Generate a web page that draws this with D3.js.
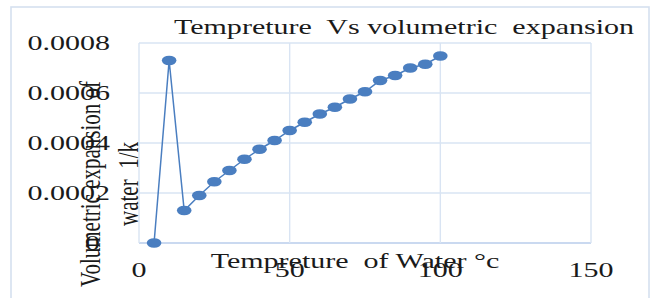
<!DOCTYPE html>
<html>
<head>
<meta charset="utf-8">
<script src="https://cdn.jsdelivr.net/npm/d3@7"></script>
<style>
  html, body { margin: 0; padding: 0; background: #fff; }
  svg text { font-family: "Liberation Serif", "Times New Roman", serif; fill: #1a1a1a; white-space: pre; }
</style>
</head>
<body>
<svg id="chart" width="654" height="298"></svg>
<script>
// ---- data ----
const temperatures = [5, 10, 15, 20, 25, 30, 35, 40, 45, 50, 55, 60, 65, 70, 75, 80, 85, 90, 95, 100];
const expansion = [0, 0.00073, 0.00013, 0.00019, 0.000245, 0.00029, 0.000335, 0.000375, 0.00041, 0.00045,
                   0.000483, 0.000516, 0.000543, 0.000576, 0.000605, 0.00065, 0.00067, 0.0007, 0.000715, 0.000748];
const xTicks = [0, 50, 100, 150];
const yTicks = [0, 0.0002, 0.0004, 0.0006, 0.0008];
const yTickLabels = ["0", "0.0002", "0.0004", "0.0006", "0.0008"];
const chartTitle = "Tempreture  Vs volumetric  expansion";
const xTitle = "Tempreture  of Water °c";
const yTitleLines = ["Volumetric expansion of", "water  1/k"];

// ---- layout ----
const svg = d3.select("#chart");
const sx = 1.43; // horizontal text stretch of the original image
const plot = { left: 139, right: 591, top: 43, bottom: 243 };
const x = d3.scaleLinear().domain([0, 150]).range([plot.left, plot.right]);
const y = d3.scaleLinear().domain([0, 0.0008]).range([plot.bottom, plot.top]);

// outer chart frame
svg.append("rect")
  .attr("x", 11).attr("y", 7).attr("width", 638).attr("height", 310)
  .attr("fill", "none").attr("stroke", "#d5e0ef").attr("stroke-width", 1.6);

// gridlines
svg.append("g").selectAll("line").data(yTicks).join("line")
  .attr("x1", plot.left).attr("x2", plot.right)
  .attr("y1", d => y(d)).attr("y2", d => y(d))
  .attr("stroke", d => d === 0 ? "#b9cdeb" : "#d9e4f3").attr("stroke-width", 1.4);
svg.append("g").selectAll("line").data(xTicks).join("line")
  .attr("x1", d => x(d)).attr("x2", d => x(d))
  .attr("y1", plot.top).attr("y2", plot.bottom)
  .attr("stroke", "#d9e4f3").attr("stroke-width", 1.4);

// y tick labels
svg.append("g").selectAll("text").data(yTicks).join("text")
  .attr("transform", (d) => `translate(${d === 0 ? 100 : 110},${y(d)}) scale(${sx},1)`)
  .attr("text-anchor", "end").attr("dy", "0.35em")
  .attr("font-size", 21)
  .text((d, i) => yTickLabels[i]);

// x tick labels
svg.append("g").selectAll("text").data(xTicks).join("text")
  .attr("transform", d => `translate(${x(d)},277) scale(${sx},1)`)
  .attr("text-anchor", "middle")
  .attr("font-size", 21)
  .text(d => d);

// title
svg.append("text")
  .attr("transform", `translate(404,34) scale(${sx},1)`)
  .attr("text-anchor", "middle").attr("font-size", 21)
  .text(chartTitle);

// x axis title
svg.append("text")
  .attr("transform", `translate(355,268) scale(${sx},1)`)
  .attr("text-anchor", "middle").attr("font-size", 21)
  .text(xTitle);

// y axis title (two lines, rotated)
const yt = svg.append("g").attr("transform", `translate(0,184) scale(${sx},1) rotate(-90)`);
yt.selectAll("text").data(yTitleLines).join("text")
  .attr("x", 0).attr("y", (d, i) => i === 0 ? 70 : 96.5)
  .attr("text-anchor", "middle").attr("font-size", 21)
  .text(d => d);

// series line
const pts = temperatures.map((t, i) => [t, expansion[i]]);
svg.append("path")
  .datum(pts)
  .attr("fill", "none").attr("stroke", "#4a7ec0").attr("stroke-width", 1.5)
  .attr("d", d3.line().x(d => x(d[0])).y(d => y(d[1])));

// markers
svg.append("g").selectAll("ellipse").data(pts).join("ellipse")
  .attr("cx", d => x(d[0])).attr("cy", d => y(d[1]))
  .attr("rx", 7.3).attr("ry", 4.8)
  .attr("fill", "#4a7ec0");
</script>
</body>
</html>
